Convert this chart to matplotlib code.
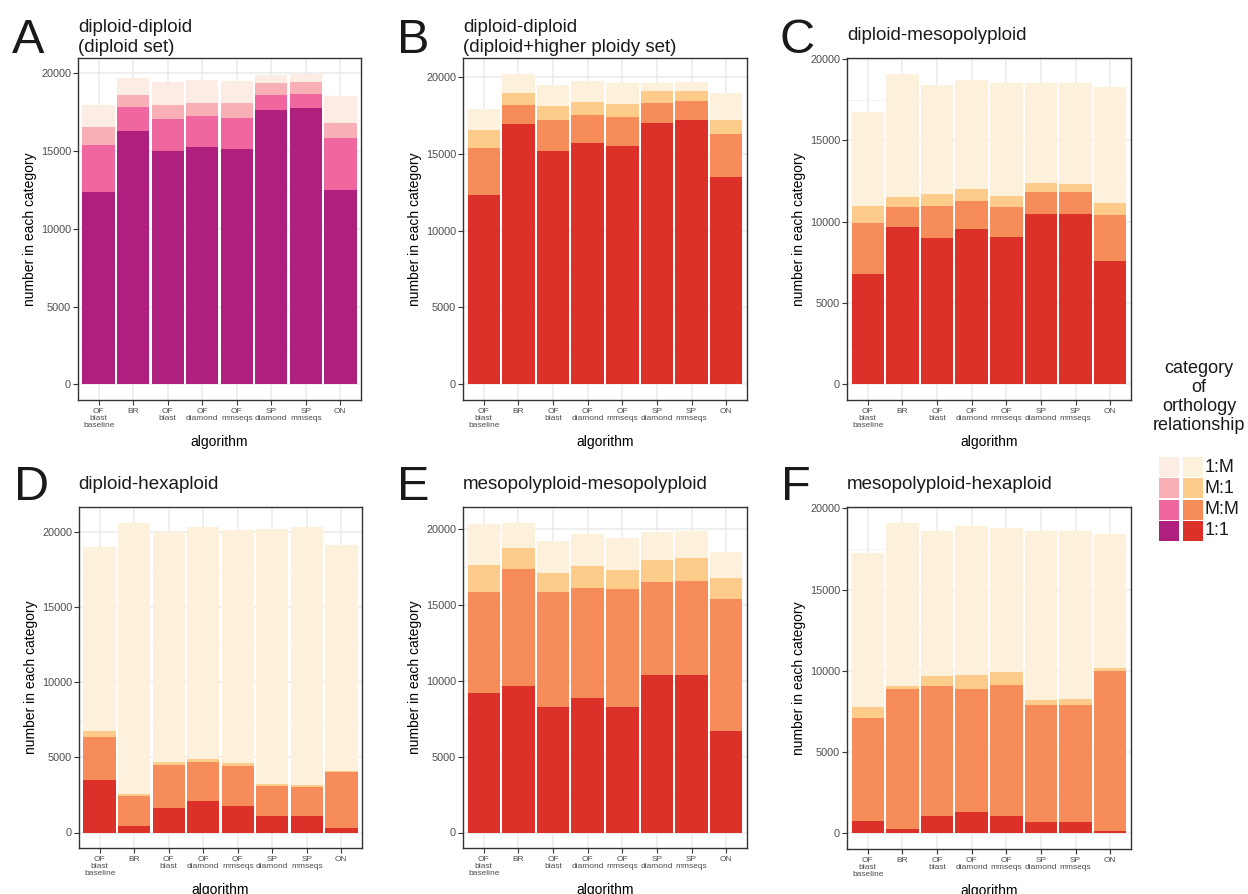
import numpy as np
import matplotlib
matplotlib.use("Agg")
import matplotlib.pyplot as plt
from matplotlib.patches import Rectangle

plt.rcParams['font.family'] = ['Liberation Sans', 'DejaVu Sans']

#%%
# categories on the x axis
algorithms = ["OF\nblast\nbaseline", "BR", "OF\nblast", "OF\ndiamond",
              "OF\nmmseqs", "SP\ndiamond", "SP\nmmseqs", "ON"]
categories = ["1:1", "M:M", "M:1", "1:M"]

# counts, one list per category (1:1, M:M, M:1, 1:M)
a_11 = [12370, 16290, 15000, 15260, 15130, 17640, 17770, 12500]
a_mm = [3020, 1540, 2060, 2000, 2000, 970, 900, 3340]
a_m1 = [1160, 780, 900, 830, 960, 770, 770, 970]
a_1m = [1390, 1070, 1480, 1480, 1420, 510, 520, 1730]

b_11 = [12320, 16940, 15180, 15700, 15510, 17010, 17200, 13490]
b_mm = [3060, 1240, 2020, 1830, 1890, 1300, 1240, 2800]
b_m1 = [1170, 780, 910, 840, 840, 780, 650, 910]
b_1m = [1370, 1240, 1370, 1370, 1370, 520, 580, 1760]

c_11 = [6790, 9680, 9010, 9560, 9070, 10480, 10480, 7590]
c_mm = [3140, 1230, 1960, 1720, 1840, 1360, 1360, 2830]
c_m1 = [1040, 620, 740, 740, 680, 550, 490, 740]
c_1m = [5790, 7570, 6710, 6710, 6950, 6150, 6210, 7140]

d_11 = [3520, 460, 1660, 2120, 1790, 1130, 1130, 330]
d_mm = [2850, 2000, 2850, 2590, 2660, 1990, 1920, 3720]
d_m1 = [400, 130, 200, 200, 200, 130, 140, 70]
d_1m = [12210, 18050, 15270, 15400, 15460, 16990, 17120, 15000]

e_11 = [9190, 9650, 8270, 8860, 8270, 10370, 10370, 6700]
e_mm = [6630, 7680, 7550, 7220, 7750, 6110, 6170, 8660]
e_m1 = [1770, 1380, 1250, 1450, 1240, 1440, 1510, 1380]
e_1m = [2760, 1710, 2160, 2160, 2170, 1900, 1840, 1710]

f_11 = [740, 250, 1050, 1290, 1050, 680, 680, 180]
f_mm = [6330, 8660, 7990, 7620, 8050, 7190, 7190, 9840]
f_m1 = [680, 130, 670, 860, 800, 310, 370, 180]
f_1m = [9520, 10080, 8920, 9160, 8910, 10450, 10390, 8240]

titles = ["diploid-diploid\n(diploid set)",
          "diploid-diploid\n(diploid+higher ploidy set)",
          "diploid-mesopolyploid",
          "diploid-hexaploid",
          "mesopolyploid-mesopolyploid",
          "mesopolyploid-hexaploid"]
letters = ["A", "B", "C", "D", "E", "F"]

pink = ["#AE1F7E", "#F067A0", "#F8AFB6", "#FDECE4"]
orange = ["#DB3128", "#F68C5A", "#FDCC8A", "#FDF1DC"]

panels = [
    ([a_11, a_mm, a_m1, a_1m], pink),
    ([b_11, b_mm, b_m1, b_1m], orange),
    ([c_11, c_mm, c_m1, c_1m], orange),
    ([d_11, d_mm, d_m1, d_1m], orange),
    ([e_11, e_mm, e_m1, e_1m], orange),
    ([f_11, f_mm, f_m1, f_1m], orange),
]

#%%
W, H = 1248, 894
fig = plt.figure(figsize=(W / 100, H / 100), dpi=100)

def px_rect(x0, y0, x1, y1):
    return [x0 / W, 1 - y1 / H, (x1 - x0) / W, (y1 - y0) / H]

# axes boxes in pixels (left, top, right, bottom)
boxes = [(78, 58, 361, 400), (463, 58, 747, 400), (847, 58, 1131, 400),
         (79, 507, 362, 848), (463, 507, 747, 848), (847, 507, 1131, 849)]
title_pos = [(78, 52), (463, 52), (847, 40), (78, 489), (463, 489), (847, 489)]
letter_pos = [(12, 53), (397, 53), (780, 53), (14, 500), (397, 500), (781, 500)]

x = np.arange(len(algorithms))
grey_txt = "#4D4D4D"

for i, ((series, cols), box) in enumerate(zip(panels, boxes)):
    ax = fig.add_axes(px_rect(*box))
    bottom = np.zeros(len(algorithms))
    for vals, col in zip(series, cols):
        ax.bar(x, vals, bottom=bottom, width=0.94, color=col, linewidth=0, zorder=3)
        bottom += np.array(vals)
    top = bottom.max()
    ax.set_ylim(-0.05 * top, 1.05 * top)
    ax.set_xlim(-0.6, len(algorithms) - 0.4)

    ax.set_yticks([0, 5000, 10000, 15000, 20000])
    ax.set_yticks([2500, 7500, 12500, 17500], minor=True)
    ax.set_xticks(x)
    ax.set_xticklabels(algorithms, fontsize=6, color=grey_txt, linespacing=1.05)
    ax.tick_params(axis='y', labelsize=7.8, labelcolor=grey_txt, length=3.5,
                   width=0.8, color="#333333", pad=1.5)
    ax.tick_params(axis='x', length=3.5, width=0.8, color="#333333", pad=2)
    ax.tick_params(axis='y', which='minor', length=0)
    ax.grid(True, which='major', color="#EBEBEB", linewidth=1.1, zorder=0)
    ax.grid(True, which='minor', axis='y', color="#F2F2F2", linewidth=0.6, zorder=0)
    ax.set_axisbelow(True)
    for sp in ax.spines.values():
        sp.set_color("#333333")
        sp.set_linewidth(1.0)

    ax.set_ylabel("number in each category", fontsize=10, labelpad=3)
    ax.set_xlabel("algorithm", fontsize=10, labelpad=4)

    tx, ty = title_pos[i]
    fig.text(tx / W, 1 - ty / H, titles[i], fontsize=13.5, color="#1A1A1A",
             ha='left', va='baseline', linespacing=1.2)
    lx, ly = letter_pos[i]
    fig.text(lx / W, 1 - ly / H, letters[i], fontsize=35, color="#1A1A1A",
             ha='left', va='baseline')

#%%
# legend: two columns of keys (pink set / orange set) sharing labels
fig.text(1199 / W, 1 - 360 / H, "category\nof\northology\nrelationship",
         fontsize=13, ha='center', va='top', linespacing=1.15, color="#1A1A1A")
leg_labels = ["1:M", "M:1", "M:M", "1:1"]
for r, lab in enumerate(leg_labels):
    k = 3 - r
    y0 = 457 + r * 21.3
    fig.patches.append(Rectangle((1159 / W, 1 - (y0 + 20) / H), 20 / W, 20 / H,
                                 transform=fig.transFigure, facecolor=pink[k],
                                 edgecolor='none'))
    fig.patches.append(Rectangle((1183 / W, 1 - (y0 + 20) / H), 20 / W, 20 / H,
                                 transform=fig.transFigure, facecolor=orange[k],
                                 edgecolor='none'))
    fig.text(1205 / W, 1 - (y0 + 10) / H, lab, fontsize=13, ha='left',
             va='center', color="#1A1A1A")

plt.savefig("out.png", dpi=100)
plt.close()
